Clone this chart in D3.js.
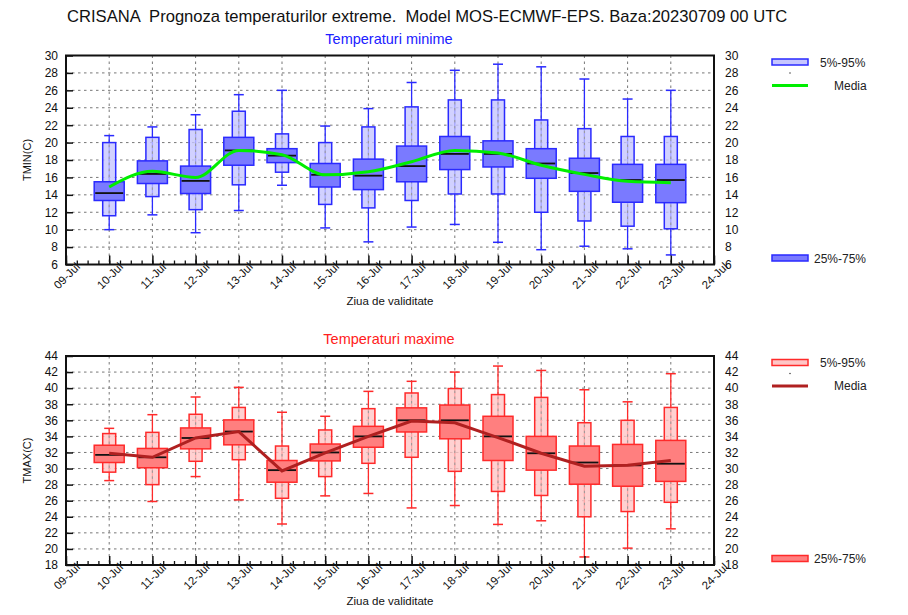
<!DOCTYPE html>
<html>
<head>
<meta charset="utf-8">
<script src="https://cdn.jsdelivr.net/npm/d3@7"></script>
<style>
  body { margin: 0; background: #fff; }
  svg { font-family: "Liberation Sans", Helvetica, Arial, sans-serif; }
  .grid line { stroke: #777; stroke-dasharray: 2.5 3.5; stroke-width: 1; }
</style>
</head>
<body>
<svg id="chart" width="908" height="615"></svg>
<script>
// DATA

const tickLabels = ["09-Jul", "10-Jul", "11-Jul", "12-Jul", "13-Jul", "14-Jul", "15-Jul", "16-Jul",
  "17-Jul", "18-Jul", "19-Jul", "20-Jul", "21-Jul", "22-Jul", "23-Jul", "24-Jul"];
// forecast days are tick positions 1..14 (10-Jul .. 23-Jul)
const forecastDays = d3.range(1, 15);

// Temperaturi minime
const tminHi   = [20.8, 21.8, 23.2, 25.5, 26.0, 21.9, 23.9, 26.9, 28.3, 29.0, 28.7, 27.3, 25.0, 26.0];
const tminP95  = [20.0, 20.6, 21.5, 23.6, 21.0, 20.0, 21.8, 24.1, 24.9, 24.9, 22.6, 21.6, 20.7, 20.7];
const tminP75  = [15.5, 17.9, 17.3, 20.6, 19.3, 17.6, 18.1, 19.6, 20.7, 20.2, 19.3, 18.2, 17.5, 17.5];
const tminMed  = [14.2, 16.4, 15.6, 19.1, 18.5, 16.3, 16.2, 17.3, 18.7, 18.7, 17.6, 16.5, 15.7, 15.7];
const tminP25  = [13.35, 15.3, 14.15, 17.4, 17.7, 14.9, 14.6, 15.5, 16.9, 17.2, 15.9, 14.4, 13.15, 13.1];
const tminP5   = [11.6, 13.8, 12.3, 15.15, 16.6, 12.9, 12.5, 13.35, 14.1, 14.1, 12.0, 11.0, 10.4, 10.1];
const tminLo   = [10.0, 11.7, 9.65, 12.2, 15.1, 10.2, 8.6, 10.3, 10.6, 8.55, 7.7, 8.1, 7.8, 7.1];
const tminMean = [14.9, 16.7, 16.0, 19.1, 18.6, 16.3, 16.65, 17.8, 19.1, 18.8, 17.4, 16.35, 15.55, 15.4];

// Temperaturi maxime
const tmaxHi   = [35.0, 36.7, 38.9, 40.1, 37.0, 36.5, 39.6, 40.85, 42.0, 42.75, 42.2, 39.8, 38.3, 41.8];
const tmaxP95  = [34.35, 34.5, 36.75, 37.6, 32.8, 34.8, 37.45, 39.4, 39.95, 39.2, 38.85, 35.7, 36.0, 37.6];
const tmaxP75  = [32.9, 32.5, 35.05, 36.05, 31.0, 33.05, 35.25, 37.55, 37.9, 36.5, 34.0, 32.8, 33.0, 33.5];
const tmaxMed  = [31.7, 31.4, 33.8, 34.6, 29.8, 32.0, 34.0, 36.0, 36.0, 34.0, 31.9, 30.75, 30.4, 30.6];
const tmaxP25  = [30.75, 30.1, 32.45, 32.95, 28.3, 30.95, 32.65, 34.55, 33.7, 31.0, 29.8, 28.05, 27.8, 28.4];
const tmaxP5   = [29.55, 28.0, 30.9, 31.1, 26.3, 29.0, 30.65, 31.4, 29.65, 27.15, 26.65, 24.0, 24.65, 25.8];
const tmaxLo   = [28.5, 25.9, 29.0, 26.1, 23.1, 26.6, 26.9, 25.1, 25.4, 23.05, 23.5, 19.0, 20.1, 22.5];
const tmaxMean = [31.9, 31.4, 33.8, 34.6, 29.7, 31.95, 34.0, 35.9, 35.7, 33.85, 31.9, 30.3, 30.4, 31.0];

const tminTicks = d3.range(6, 31, 2);
const tmaxTicks = d3.range(18, 45, 2);

// LAYOUT

const svg = d3.select("#chart");
const plotLeft = 66, plotRight = 714;

svg.append("text")
  .attr("x", 67).attr("y", 22)
  .attr("font-size", 16.6)
  .attr("fill", "#111")
  .attr("xml:space", "preserve")
  .text("CRISANA  Prognoza temperaturilor extreme.  Model MOS-ECMWF-EPS. Baza:20230709 00 UTC");

function drawPanel(opt) {
  const x = d3.scaleLinear().domain([0, 15]).range([plotLeft, plotRight]);
  const y = d3.scaleLinear().domain(opt.domain).range([opt.bottom, opt.top]);
  const g = svg.append("g");

  // subtitle
  g.append("text")
    .attr("x", 389).attr("y", opt.top - 12)
    .attr("text-anchor", "middle")
    .attr("font-size", 14.5)
    .attr("fill", opt.titleColor)
    .text(opt.title);

  // grid
  const grid = g.append("g").attr("class", "grid");
  grid.selectAll(".gy")
    .data(opt.ticks.slice(1, -1))
    .join("line")
    .attr("x1", plotLeft).attr("x2", plotRight)
    .attr("y1", d => y(d)).attr("y2", d => y(d));
  grid.selectAll(".gx")
    .data(forecastDays)
    .join("line")
    .attr("x1", d => x(d)).attr("x2", d => x(d))
    .attr("y1", opt.top).attr("y2", opt.bottom);

  const s = opt.series;
  const rows = forecastDays.map((d, i) => ({
    d, hi: s.hi[i], p95: s.p95[i], p75: s.p75[i], med: s.med[i],
    p25: s.p25[i], p5: s.p5[i], lo: s.lo[i], mean: s.mean[i]
  }));

  const boxes = g.selectAll(".box").data(rows).join("g");

  // whiskers
  boxes.append("line")
    .attr("x1", r => x(r.d)).attr("x2", r => x(r.d))
    .attr("y1", r => y(r.lo)).attr("y2", r => y(r.hi))
    .attr("stroke", opt.stroke).attr("stroke-width", 1.3);
  ["lo", "hi"].forEach(k => {
    boxes.append("line")
      .attr("x1", r => x(r.d) - 5).attr("x2", r => x(r.d) + 5)
      .attr("y1", r => y(r[k])).attr("y2", r => y(r[k]))
      .attr("stroke", opt.stroke).attr("stroke-width", 1.5);
  });

  // 5%-95% box
  boxes.append("rect")
    .attr("x", r => x(r.d) - 6.5).attr("width", 13)
    .attr("y", r => y(r.p95)).attr("height", r => y(r.p5) - y(r.p95))
    .attr("fill", opt.lightFill).attr("fill-opacity", 0.8)
    .attr("stroke", opt.stroke).attr("stroke-width", 1.5);
  // keep the day grid line visible through the light box
  boxes.append("line")
    .attr("x1", r => x(r.d)).attr("x2", r => x(r.d))
    .attr("y1", r => y(r.p95) + 2).attr("y2", r => y(r.p5) - 2)
    .attr("stroke", "#999").attr("stroke-dasharray", "2.5 3.5");

  // 25%-75% box
  boxes.append("rect")
    .attr("x", r => x(r.d) - 15).attr("width", 30)
    .attr("y", r => y(r.p75)).attr("height", r => y(r.p25) - y(r.p75))
    .attr("fill", opt.darkFill)
    .attr("stroke", opt.stroke).attr("stroke-width", 1.5);

  // median
  boxes.append("line")
    .attr("x1", r => x(r.d) - 14).attr("x2", r => x(r.d) + 14)
    .attr("y1", r => y(r.med)).attr("y2", r => y(r.med))
    .attr("stroke", "#111").attr("stroke-width", 1.8);

  // media line
  g.append("path")
    .datum(rows)
    .attr("fill", "none")
    .attr("stroke", opt.meanColor)
    .attr("stroke-width", 3)
    .attr("d", d3.line().x(r => x(r.d)).y(r => y(r.mean)).curve(opt.curve));

  // axes
  const left = g.append("g")
    .attr("transform", `translate(${plotLeft},0)`)
    .call(d3.axisLeft(y).tickValues(opt.ticks).tickSizeInner(-7).tickSizeOuter(0).tickPadding(8));
  const right = g.append("g")
    .attr("transform", `translate(${plotRight},0)`)
    .call(d3.axisRight(y).tickValues(opt.ticks).tickSize(0).tickPadding(11));
  [left, right].forEach(a => {
    a.select(".domain").remove();
    a.selectAll("text").attr("font-size", 12).attr("fill", "#111");
    a.selectAll("line").attr("stroke", "#111").attr("stroke-width", 1.5);
  });

  g.append("g")
    .attr("transform", `translate(0,${opt.bottom})`)
    .call(d3.axisBottom(x).tickValues(d3.range(0, 15.01, 0.25)).tickSize(-4).tickFormat(""))
    .call(a => a.select(".domain").remove())
    .selectAll("line").attr("stroke", "#111").attr("stroke-width", 1.3);

  const bottomAxis = g.append("g")
    .attr("transform", `translate(0,${opt.bottom})`)
    .call(d3.axisBottom(x).tickValues(d3.range(0, 16)).tickSizeInner(-9).tickSizeOuter(0)
      .tickFormat(i => tickLabels[i]));
  bottomAxis.select(".domain").remove();
  bottomAxis.selectAll("line").attr("stroke", "#111").attr("stroke-width", 1.5);
  bottomAxis.selectAll("text")
    .attr("font-size", 11.5).attr("fill", "#111")
    .attr("text-anchor", "middle")
    .attr("dy", null).attr("y", null)
    .attr("transform", "translate(1,12) rotate(-45)")
    .attr("dominant-baseline", "middle");

  // frame
  g.append("rect")
    .attr("x", plotLeft).attr("y", opt.top)
    .attr("width", plotRight - plotLeft).attr("height", opt.bottom - opt.top)
    .attr("fill", "none").attr("stroke", "#111").attr("stroke-width", 2);

  // axis titles
  g.append("text")
    .attr("transform", `translate(31,${(opt.top + opt.bottom) / 2}) rotate(-90)`)
    .attr("text-anchor", "middle")
    .attr("font-size", 11).attr("fill", "#111")
    .text(opt.yLabel);
  g.append("text")
    .attr("x", 390).attr("y", opt.bottom + 40)
    .attr("text-anchor", "middle")
    .attr("font-size", 11.5).attr("fill", "#111")
    .text("Ziua de validitate");

  // legend
  const lg = g.append("g");
  lg.append("rect")
    .attr("x", 772).attr("y", opt.top + 3.5).attr("width", 36).attr("height", 6)
    .attr("fill", opt.lightFill).attr("stroke", opt.stroke).attr("stroke-width", 1.5);
  lg.append("text").attr("x", 820).attr("y", opt.top + 11)
    .attr("font-size", 12).attr("fill", "#222").text("5%-95%");
  lg.append("circle").attr("cx", 790).attr("cy", opt.top + 17.5).attr("r", 0.7).attr("fill", "#222");
  lg.append("line")
    .attr("x1", 772).attr("x2", 808).attr("y1", opt.top + 30).attr("y2", opt.top + 30)
    .attr("stroke", opt.meanColor).attr("stroke-width", 3);
  lg.append("text").attr("x", 834).attr("y", opt.top + 34)
    .attr("font-size", 12).attr("fill", "#222").text("Media");
  lg.append("rect")
    .attr("x", 772).attr("y", opt.bottom - 9.5).attr("width", 36).attr("height", 6)
    .attr("fill", opt.darkFill).attr("stroke", opt.stroke).attr("stroke-width", 1.5);
  lg.append("text").attr("x", 814).attr("y", opt.bottom - 2)
    .attr("font-size", 12).attr("fill", "#222").text("25%-75%");
}

drawPanel({
  top: 55.5, bottom: 264.5, domain: [6, 30], ticks: tminTicks,
  title: "Temperaturi minime", titleColor: "#2020ff", yLabel: "TMIN(C)",
  stroke: "#2a2aff", lightFill: "#c6c6ff", darkFill: "#7a7aff", meanColor: "#00ee00",
  curve: d3.curveMonotoneX,
  series: { hi: tminHi, p95: tminP95, p75: tminP75, med: tminMed, p25: tminP25, p5: tminP5, lo: tminLo, mean: tminMean }
});

drawPanel({
  top: 356, bottom: 565, domain: [18, 44], ticks: tmaxTicks,
  title: "Temperaturi maxime", titleColor: "#ff2020", yLabel: "TMAX(C)",
  stroke: "#ff2a2a", lightFill: "#ffc6c6", darkFill: "#ff7f7f", meanColor: "#b02020",
  curve: d3.curveLinear,
  series: { hi: tmaxHi, p95: tmaxP95, p75: tmaxP75, med: tmaxMed, p25: tmaxP25, p5: tmaxP5, lo: tmaxLo, mean: tmaxMean }
});
</script>
</body>
</html>
